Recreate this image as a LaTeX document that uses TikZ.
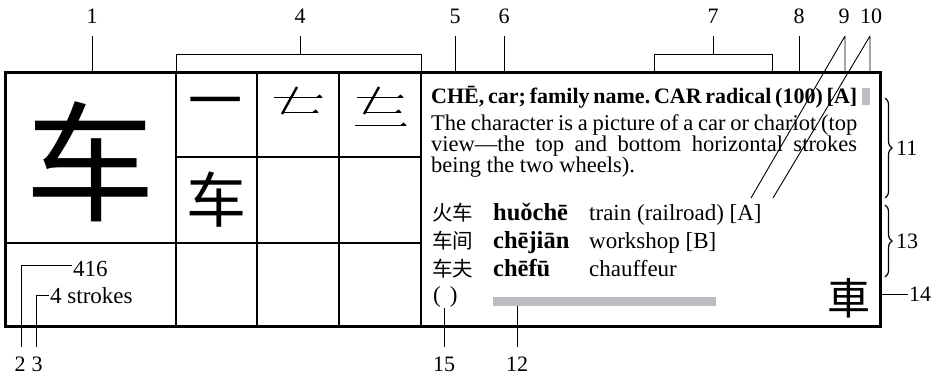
\documentclass[tikz,border=0pt]{standalone}
\usepackage{fontspec}
\setmainfont{Liberation Serif}
\newfontfamily\cjk{Noto Sans CJK SC}
\usetikzlibrary{decorations.pathreplacing}
\definecolor{bargray}{RGB}{187,189,192}
\frenchspacing
\newcommand\hstroke[3]{\draw[line width=0.9pt] (#1,#3) -- (#2,#3);
  \fill (#2-6,#3+0.5) -- (#2-2.5,#3-2.5) -- (#2+0.6,#3+0.5) -- cycle;}
\newcommand\fullline[1]{{\spaceskip=0.22em plus 1em minus 0.15em\makebox[426pt][s]{#1}}}
\begin{document}
\begin{tikzpicture}[x=1pt,y=-1pt,
  lab/.style={font=\fontsize{22}{22}\selectfont, inner sep=0pt},
  ln/.style={line width=0.9pt},
  gridline/.style={line width=1.3pt},
  frame/.style={line width=3pt},
  body/.style={font=\fontsize{22.5}{22.5}\selectfont, inner sep=0pt, anchor=base west},
  rowtext/.style={font=\fontsize{23}{23}\selectfont, inner sep=0pt, anchor=base west},
  pinyin/.style={font=\fontsize{24.5}{24.5}\selectfont\bfseries, inner sep=0pt, anchor=base west},
  hanzi/.style={font=\fontsize{20.5}{20.5}\cjk, inner sep=0pt, anchor=base west},
  bigchar/.style={inner sep=0pt},
  brc/.style={decorate, decoration={brace, amplitude=7pt}, line width=1.2pt}
]
\useasboundingbox (0,0) rectangle (940,376);
% grid
\draw[gridline] (176,72) -- (176,326) (257,72) -- (257,326) (339,72) -- (339,326) (421,72) -- (421,326);
\draw[gridline] (176,157) -- (421,157) (5,243) -- (421,243);
\draw[frame] (5,72) rectangle (880,326);
% characters in grid
\node[bigchar, font=\fontsize{130}{130}\cjk] (big) at (90,162) {车};
\node[bigchar, font=\fontsize{54}{54}\cjk] (s1) at (215,109) {一};
\hstroke{274}{322}{97}
\draw[line width=2.4pt] (297,87) -- (282,114);
\hstroke{282}{318}{112}
\hstroke{357}{403}{97}
\draw[line width=2.4pt] (379,87) -- (364,114);
\hstroke{364}{401}{112}
\hstroke{355}{406}{125}
\node[bigchar, font=\fontsize{60}{60}\cjk] (s4) at (216,200) {车};
% bottom-left info
\node[rowtext] (num) at (73,276) {416};
\node[rowtext] (strk) at (50,303) {4 strokes};
% right panel text
\node[body, font=\fontsize{22}{22}\selectfont\bfseries] (head) at (431,103) {\fullline{CHĒ, car; family name. CAR radical (100) [A]}};
\fill[bargray] (862,88) rectangle (870,105);
\node[body] (b1) at (431,130) {\fullline{The character is a picture of a car or chariot (top}};
\node[body] (b2) at (431,151) {\fullline{view---the top and bottom horizontal strokes}};
\node[body] (b3) at (431,172) {being the two wheels).};
\node[hanzi] (c1) at (432,220) {火车};
\node[pinyin] (p1) at (493,220) {huǒchē};
\node[rowtext] (e1) at (589,220) {train (railroad) [A]};
\node[hanzi] (c2) at (432,248) {车间};
\node[pinyin] (p2) at (493,248) {chējiān};
\node[rowtext] (e2) at (589,248) {workshop [B]};
\node[hanzi] (c3) at (432,276) {车夫};
\node[pinyin] (p3) at (493,276) {chēfū};
\node[rowtext] (e3) at (589,276) {chauffeur};
\node[rowtext] (par) at (433,302) {(\hspace{9pt})};
\fill[bargray] (493,297) rectangle (716,306);
\node[bigchar, font=\fontsize{43}{43}\cjk] (trad) at (849,298) {車};
% top labels
\node[lab] (L1) at (92,16) {1};
\node[lab] (L4) at (300,16) {4};
\node[lab] (L5) at (455,16) {5};
\node[lab] (L6) at (504,16) {6};
\node[lab] (L7) at (713,16) {7};
\node[lab] (L8) at (799,16) {8};
\node[lab] (L9) at (844,16) {9};
\node[lab] (L10) at (871,16) {10};
\coordinate (a1) at (92,36); \coordinate (z1) at (92,72);
\coordinate (a5) at (455,36); \coordinate (z5) at (455,72);
\coordinate (a6) at (504,36); \coordinate (z6) at (504,72);
\coordinate (a8) at (799,36); \coordinate (z8) at (799,72);
\coordinate (a9) at (845,36); \coordinate (z9) at (845,72); \coordinate (d9) at (751,198);
\coordinate (a10) at (870,36); \coordinate (z10) at (870,72); \coordinate (d10) at (773,198);
\draw[ln] (a1) -- (z1);
\draw[ln] (a5) -- (z5);
\draw[ln] (a6) -- (z6);
\draw[ln] (a8) -- (z8);
\draw[ln] (a9) -- (z9) (a9) -- (d9);
\draw[ln] (a10) -- (z10) (a10) -- (d10);
\coordinate (a4) at (300,36); \coordinate (m4) at (300,54);
\draw[ln] (176,72) -- (176,54) -- (421,54) -- (421,72);
\draw[ln] (a4) -- (m4);
\coordinate (a7) at (713,36); \coordinate (m7) at (713,54);
\draw[ln] (654,72) -- (654,54) -- (772,54) -- (772,72);
\draw[ln] (a7) -- (m7);
% right labels
\draw[brc] (885,98) -- (885,198);
\node[lab, anchor=west] (L11) at (896,148) {11};
\draw[brc] (885,205) -- (885,277);
\node[lab, anchor=west] (L13) at (896,241) {13};
\coordinate (z14) at (880,294); \coordinate (a14) at (908,294);
\draw[ln] (z14) -- (a14);
\node[lab, anchor=west] (L14) at (909,294) {14};
% bottom labels
\node[lab] (L2) at (20,364) {2};
\node[lab] (L3) at (37,364) {3};
\node[lab] (L15) at (444,364) {15};
\node[lab] (L12) at (517,364) {12};
\coordinate (a2) at (21,347); \coordinate (k2) at (21,265); \coordinate (z2) at (72,265);
\coordinate (a3) at (36,347); \coordinate (k3) at (36,295); \coordinate (z3) at (49,295);
\draw[ln] (a2) -- (k2) -- (z2);
\draw[ln] (a3) -- (k3) -- (z3);
\coordinate (a15) at (444,347); \coordinate (z15) at (444,308);
\coordinate (a12) at (517,347); \coordinate (z12) at (517,306);
\draw[ln] (a15) -- (z15);
\draw[ln] (a12) -- (z12);
\end{tikzpicture}
\end{document}
